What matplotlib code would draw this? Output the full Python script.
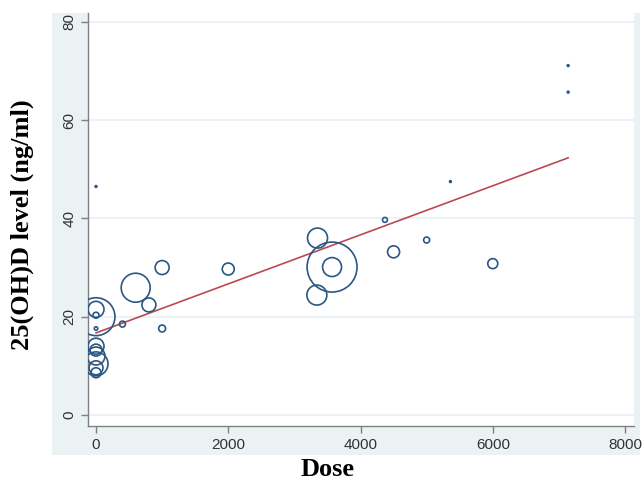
import matplotlib.pyplot as plt
from matplotlib.patches import Rectangle

# Study data: dose, mean 25(OH)D level, relative study weight (bubble area)
dose = [0, 0, 0, 0, 0, 0, 0, 0, 0, 0, 0,
        400, 600, 800, 1000, 1000, 2000,
        3340, 3350, 3570, 3570, 4370, 4500, 5000, 5360, 6000, 7140, 7140]
level = [46.5, 20.0, 21.5, 20.3, 17.6, 14.0, 13.2, 12.0, 10.4, 9.6, 8.6,
         18.5, 25.9, 22.4, 30.0, 17.6, 29.7,
         24.4, 36.0, 30.1, 30.1, 39.7, 33.2, 35.6, 47.5, 30.8, 71.1, 65.7]
weight = [0.8, 360, 64, 9, 3, 64, 36, 81, 144, 49, 25,
          9, 210, 49, 49, 12, 36,
          100, 100, 625, 90, 6, 36, 9, 0.8, 25, 0.8, 0.8]

# Fitted line
fit_intercept = 16.7
fit_slope = 0.00499
fit_range = [0, 7140]

x_ticks = [0, 2000, 4000, 6000, 8000]
y_ticks = [0, 20, 40, 60, 80]

bg = "#eaf2f3"
navy = "#2a5783"
red = "#b84a50"

fig = plt.figure(figsize=(6.43, 4.88), dpi=100)
W, H = 643, 488

# light graph region behind the plot
fig.patches.append(Rectangle((52 / W, 1 - 455 / H), (640 - 52) / W, (455 - 13) / H,
                             transform=fig.transFigure, facecolor=bg,
                             edgecolor="none", zorder=0))

ax = fig.add_axes([88 / W, 1 - 426 / H, (634 - 88) / W, (426 - 13) / H])
ax.set_zorder(2)
ax.set_facecolor("white")

ax.set_xlim(-121, 8136)
ax.set_ylim(-2.24, 81.8)

ax.grid(axis="y", color=bg, lw=1.5)
ax.set_axisbelow(True)

sizes = [w * 2.07 for w in weight]
ax.scatter(dose, level, s=sizes, facecolors="none", edgecolors=navy,
           linewidths=1.2, zorder=3)

fx = fit_range
fy = [fit_intercept + fit_slope * v for v in fx]
ax.plot(fx, fy, color=red, lw=1.2, zorder=2)

for s in ["top", "right"]:
    ax.spines[s].set_visible(False)
for s in ["left", "bottom"]:
    ax.spines[s].set_color("#808080")
    ax.spines[s].set_linewidth(1.0)

ax.set_xticks(x_ticks)
ax.set_yticks(y_ticks)
ax.tick_params(colors="#808080", length=5, width=1, labelcolor="#333333",
               labelsize=11)
for lab in ax.get_xticklabels() + ax.get_yticklabels():
    lab.set_family("Liberation Sans")
for lab in ax.get_yticklabels():
    lab.set_rotation(90)
    lab.set_va("center")

fig.text(328 / W, 1 - 470 / H, "Dose", ha="center", va="center",
         family="Liberation Serif", weight="bold", fontsize=19)
fig.text(22 / W, 1 - 225 / H, "25(OH)D level (ng/ml)", ha="center", va="center",
         rotation=90, family="Liberation Serif", weight="bold", fontsize=19)

fig.savefig("out.png", dpi=100)
